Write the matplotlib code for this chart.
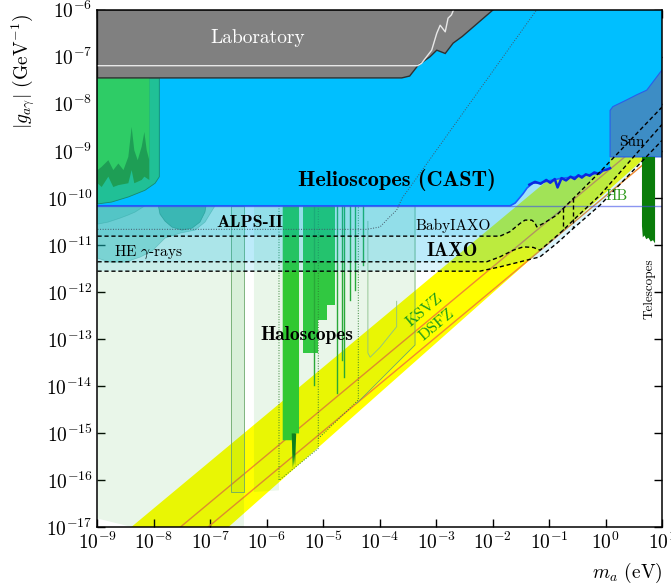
import numpy as np
import matplotlib.pyplot as plt

plt.rcParams['mathtext.fontset'] = 'cm'
plt.rcParams['font.family'] = ['cmr10', 'DejaVu Serif']
plt.rcParams['axes.formatter.use_mathtext'] = True

# all values below are log10(m_a / eV) and log10(|g| / GeV^-1)

# Laboratory (gray), lower edge
lab_m = [-9.0, -3.61, -3.47, -3.32, -3.11, -2.99, -2.84, -2.70, -2.54, -1.99]
lab_g = [-7.45, -7.45, -7.41, -7.18, -7.00, -6.86, -6.93, -6.71, -6.57, -6.0]
# white line inside the laboratory region
labline_m = [-9.0, -3.33, -3.26, -3.08, -2.99, -2.93, -2.84, -2.79, -2.73, -2.67]
labline_g = [-7.19, -7.19, -7.14, -6.86, -6.50, -6.33, -6.47, -6.18, -6.11, -5.94]

# CAST lower edge
cast_m = [-9.0, -1.69, -1.60, -1.46, -1.39, -1.29, -1.16, -0.81, -0.45, -0.10, 0.04, 0.08, 0.08, 1.0]
cast_g = [-10.17, -10.17, -10.11, -9.91, -9.79, -9.69, -9.68, -9.59, -9.54, -9.47, -9.37, -9.37, -9.13, -9.13]
# noisy part of the CAST edge
jag_m = [-1.35, -1.25, -1.15, -1.05, -0.98, -0.90, -0.85, -0.78, -0.70, -0.62, -0.55,
         -0.48, -0.42, -0.35, -0.28, -0.20, -0.12, -0.05, 0.02, 0.08]
jag_g = [-9.72, -9.66, -9.70, -9.62, -9.68, -9.60, -9.78, -9.58, -9.63, -9.55, -9.60,
         -9.52, -9.57, -9.50, -9.53, -9.46, -9.49, -9.42, -9.40, -9.37]

# Sun region
sun_m = [0.08, 0.08, 0.13, 0.37, 0.55, 0.73, 1.0, 1.0]
sun_g = [-9.13, -8.14, -8.06, -7.92, -7.81, -7.71, -7.28, -9.13]

# Telescopes
tel_m = [0.645, 0.877, 0.877, 0.84, 0.80, 0.76, 0.72, 0.69, 0.66, 0.645]
tel_g = [-9.13, -9.13, -10.97, -10.90, -10.93, -10.85, -10.88, -10.80, -10.84, -10.60]

hb_g = -10.17

# QCD axion band and models
band_m = [-9.0, 1.0]
band_hi = [-17.6, -7.6]
band_lo = [-19.47, -8.83]
ksvz_g = [-18.47, -8.47]
dsfz_g = [-18.96, -8.96]

# top-left region
tl_teal_m = [-9.0, -7.905, -7.905, -7.98, -8.16, -8.45, -8.75, -9.0]
tl_teal_g = [-7.45, -7.45, -9.553, -9.69, -9.84, -9.98, -10.09, -10.13]
tl_green_m = [-9.0, -8.926, -8.808, -8.72, -8.63, -8.54, -8.454, -8.395, -8.348, -8.288,
              -8.217, -8.17, -8.128, -8.082]
tl_green_g = [-9.41, -9.34, -9.20, -9.41, -9.27, -9.41, -9.13, -8.49, -8.99, -9.20,
              -8.91, -8.60, -8.99, -9.20]
tl_dark_m = [-9.0, -8.926, -8.808, -8.72, -8.63, -8.454, -8.395, -8.348, -8.217, -8.17, -8.082]
tl_dark_g = [-9.69, -9.77, -9.55, -9.77, -9.73, -9.69, -9.41, -9.69, -9.62, -9.55, -9.62]

# haloscope bars
halo_a_m = [-5.719, -5.43, -5.43, -5.50, -5.53, -5.56, -5.56, -5.719]
halo_a_g = [-10.17, -10.17, -15.01, -15.01, -15.73, -15.10, -15.155, -15.155]
halo_a_dark_m = [-5.56, -5.54, -5.52, -5.50, -5.48, -5.50, -5.53, -5.56]
halo_a_dark_g = [-15.01, -15.75, -15.45, -15.70, -15.01, -15.01, -15.01, -15.01]
halo_b_m = [-5.355, -4.79, -4.79, -4.94, -4.94, -5.09, -5.09, -5.355]
halo_b_g = [-10.17, -10.17, -12.28, -12.28, -12.60, -12.60, -13.30, -13.30]
stem_m = [-5.165, -4.763, -4.674, -4.633, -4.53, -4.44, -4.30]
stem_g = [-13.99, -14.16, -13.45, -13.81, -12.18, -11.97, -11.43]

# light green haloscope projections
lg1_m = [-9.0, -6.405, -6.405, -8.39, -9.0]
lg1_g = [-10.17, -10.17, -17.0, -17.0, -16.82]
lg2_m = [-6.228, -3.375, -3.375, -4.38, -5.089, -5.089, -5.785, -5.785, -6.228]
lg2_g = [-10.17, -10.17, -13.13, -14.30, -15.12, -15.33, -16.01, -16.22, -16.255]
box1_m = [-6.635, -6.405, -6.405, -6.635, -6.635]
box1_g = [-10.17, -10.17, -16.25, -16.25, -10.17]
box2_m = [-5.785, -5.785, -5.089, -5.089]
box2_g = [-10.17, -16.01, -15.33, -10.17]
box3_m = [-5.089, -4.38, -4.38]
box3_g = [-15.12, -14.30, -10.17]
box4_m = [-4.41, -3.375, -3.375]
box4_g = [-14.37, -13.13, -10.17]
box5_m = [-4.21, -4.21, -4.17, -3.995, -3.70, -3.70]
box5_g = [-10.5, -13.30, -13.39, -13.18, -12.74, -12.2]

# IAXO family
baby_m = [-9.0, -1.87, -1.693, -1.516, -1.427, -1.308, -1.25, -1.22, -1.103, -0.865,
          -0.748, -0.571, -0.334, -0.098, 1.0]
baby_g = [-10.815, -10.815, -10.72, -10.545, -10.474, -10.474, -10.53, -10.617, -10.545,
          -10.368, -10.226, -10.013, -9.73, -9.447, -8.07]
iaxo_m = [-9.0, -2.105, -1.87, -1.634, -1.457, -1.28, -1.161, -0.984, -0.749, -0.571, -0.098, 1.0]
iaxo_g = [-11.36, -11.36, -11.255, -11.113, -11.043, -11.055, -11.113, -10.936, -10.687,
          -10.474, -9.943, -8.44]
iaxop_m = [-9.0, -2.225, -1.87, -1.397, -1.161, -0.865, -0.571, -0.098, 1.0]
iaxop_g = [-11.56, -11.56, -11.468, -11.326, -11.255, -10.97, -10.65, -10.155, -8.78]
vdash_m = [-0.748, -0.571]
vdash_top = [-10.226, -10.013]
vdash_bot = [-10.69, -10.65]

# ALPS-II
alps_m = [-9.0, -4.23, -3.996, -3.82, -3.70, -3.60, -3.45, -1.22]
alps_g = [-10.67, -10.67, -10.62, -10.40, -10.26, -10.0, -9.75, -6.0]

# HE gamma-rays
he_a_m = [-9.0, -6.918, -7.096, -7.273, -7.539, -7.804, -8.035, -8.247, -8.513, -8.779, -9.0]
he_a_g = [-10.17, -10.17, -10.517, -10.687, -10.751, -10.857, -11.134, -11.262, -11.368, -11.368, -11.283]
he_b_m = [-7.923, -7.893, -7.804, -7.68, -7.503, -7.326, -7.185, -7.096, -7.078]
he_b_g = [-10.17, -10.347, -10.496, -10.624, -10.687, -10.645, -10.517, -10.304, -10.17]
he_c_m = [-9.0, -8.159, -8.336, -8.46, -8.601, -8.814, -9.0]
he_c_g = [-10.17, -10.17, -10.304, -10.368, -10.432, -10.517, -10.56]


def p(v):
    return 10.0 ** np.asarray(v)


fig = plt.figure(figsize=(6.71, 5.86), dpi=100)
ax = fig.add_axes([0.1453, 0.1007, 0.8413, 0.8827])
ax.set_xscale('log')
ax.set_yscale('log')
ax.set_xlim(1e-9, 1e1)
ax.set_ylim(1e-17, 1e-6)

# QCD band
bm = p(band_m)
ax.fill(np.r_[bm, bm[::-1]], np.r_[p(band_hi), p(band_lo)[::-1]], color='#ffff00', lw=0, zorder=1)
ax.plot(bm, p(ksvz_g), color='#f28a2e', lw=1.0, zorder=2)
ax.plot(bm, p(dsfz_g), color='#f28a2e', lw=1.0, zorder=2)

# haloscope limits
ax.fill(p(halo_a_m), p(halo_a_g), color='#33cc33', lw=0, zorder=3)
ax.fill(p(halo_a_dark_m), p(halo_a_dark_g), color='#0c7a1c', lw=0, zorder=3)
ax.fill(p(halo_b_m), p(halo_b_g), color='#33cc44', lw=0, zorder=3)
for m, g in zip(stem_m, stem_g):
    ax.plot([10 ** m, 10 ** m], [10 ** hb_g, 10 ** g], color='#2aa83a', lw=1.0, zorder=3)

# light green projections
ax.fill(p(lg1_m), p(lg1_g), color='#28aa28', alpha=0.1, lw=0, zorder=4)
ax.fill(p(lg2_m), p(lg2_g), color='#28aa28', alpha=0.1, lw=0, zorder=4)
ax.fill(p(box1_m), p(box1_g), facecolor='#28aa28', alpha=0.08, edgecolor='none', zorder=4)
ax.plot(p(box1_m), p(box1_g), color='#6aa86a', lw=0.6, zorder=4)
ax.plot(p(box2_m), p(box2_g), color='#2f7f2f', lw=0.7, ls=':', zorder=4)
ax.plot(p(box3_m), p(box3_g), color='#2f7f2f', lw=0.7, ls=':', zorder=4)
ax.plot(p(box4_m), p(box4_g), color='#6aa86a', lw=0.6, zorder=4)
ax.plot(p(box5_m), p(box5_g), color='#8abf8a', lw=0.6, zorder=4)

# IAXO projections (filled above each curve)
for cm_, cg_ in [(baby_m, baby_g), (iaxo_m, iaxo_g), (iaxop_m, iaxop_g)]:
    ax.fill(np.r_[p(cm_), 1e1, 1e-9], np.r_[p(cg_), 1e-6, 1e-6], color='#00b8f0', alpha=0.14, lw=0, zorder=5)

# HE gamma-rays
ax.fill(p(he_a_m), p(he_a_g), facecolor='#20b2aa', alpha=0.35, edgecolor='#1a8f8a', lw=0.5, zorder=6)
ax.fill(p(he_b_m), p(he_b_g), facecolor='#1aa8a0', alpha=0.6, edgecolor='#1a8f8a', lw=0.5, zorder=6)
ax.fill(p(he_c_m), p(he_c_g), facecolor='#20b2aa', alpha=0.3, edgecolor='#1a8f8a', lw=0.5, zorder=6)

# CAST
ax.fill(np.r_[p(cast_m), 1e1, 1e1, 1e-9], np.r_[p(cast_g), 10 ** -9.13, 1e-6, 1e-6],
        color='#00bfff', lw=0, zorder=7)
ax.plot(p(cast_m[:10]), p(cast_g[:10]), color='#1a5cff', lw=1.2, zorder=8)
ax.plot(p(jag_m), p(jag_g), color='#0a28e0', lw=1.8, zorder=8)
ax.axhline(10 ** hb_g, color='#4050e8', lw=1.0, alpha=0.6, zorder=9)

# Sun
ax.fill(p(sun_m), p(sun_g), facecolor='#3d8dc5', edgecolor='#2a5ee8', lw=0.8, zorder=8)

# Telescopes
ax.fill(p(tel_m), p(tel_g), color='#0a7d0a', lw=0, zorder=8)

# top-left region
ax.fill(p(tl_teal_m), p(tl_teal_g), facecolor='#20c096', edgecolor='#178a6c', lw=0.6, zorder=8)
ax.fill(np.r_[p([-9.0, -8.082]), p(tl_dark_m[::-1])],
        np.r_[p([-7.45, -7.45]), p(tl_dark_g[::-1])], color='#1e9e55', lw=0, zorder=8)
ax.fill(np.r_[p([-9.0, -8.082]), p(tl_green_m[::-1])],
        np.r_[p([-7.45, -7.45]), p(tl_green_g[::-1])], color='#2ecc66', lw=0, zorder=8)

# Laboratory
ax.fill(np.r_[p(lab_m), 1e-9], np.r_[p(lab_g), 1e-6], facecolor='#808080', edgecolor='#303030',
        lw=1.0, zorder=9)
ax.plot(p(labline_m), p(labline_g), color='#e8e8e8', lw=1.0, zorder=10)

# IAXO curves and ALPS-II
for cm_, cg_ in [(baby_m, baby_g), (iaxo_m, iaxo_g), (iaxop_m, iaxop_g)]:
    ax.plot(p(cm_), p(cg_), color='k', lw=1.0, ls='--', dashes=(3, 2), zorder=11)
for m, a, b in zip(vdash_m, vdash_top, vdash_bot):
    ax.plot([10 ** m, 10 ** m], [10 ** a, 10 ** b], color='k', lw=1.0, ls='--', dashes=(3, 2), zorder=11)
ax.plot(p(alps_m), p(alps_g), color='#445566', lw=0.7, ls=':', zorder=11)

# labels
ax.text(10 ** -6.17, 10 ** -6.6, 'Laboratory', color='white', fontsize=14, ha='center', va='center', zorder=12)
ax.text(10 ** -3.69, 10 ** -9.62, 'Helioscopes (CAST)', family='cmb10', fontsize=16, ha='center', va='center', zorder=12)
ax.text(10 ** -6.30, 10 ** -10.52, 'ALPS-II', family='cmb10', fontsize=13, ha='center', va='center', zorder=12)
ax.text(10 ** -8.09, 10 ** -11.16, r'HE $\gamma$-rays', fontsize=11, ha='center', va='center', zorder=12)
ax.text(10 ** -2.70, 10 ** -10.60, 'BabyIAXO', fontsize=11, ha='center', va='center', zorder=12)
ax.text(10 ** -2.72, 10 ** -11.14, 'IAXO', family='cmb10', fontsize=14, ha='center', va='center', zorder=12)
ax.text(10 ** -5.30, 10 ** -12.92, 'Haloscopes', family='cmb10', fontsize=14, ha='center', va='center', zorder=12)
ax.text(10 ** -3.20, 10 ** -12.39, 'KSVZ', color='#1a9a1a', fontsize=11.5, rotation=40, ha='center', va='center', zorder=12)
ax.text(10 ** -2.99, 10 ** -12.71, 'DSFZ', color='#1a9a1a', fontsize=11.5, rotation=40, ha='center', va='center', zorder=12)
ax.text(10 ** 0.47, 10 ** -8.82, 'Sun', fontsize=11, ha='center', va='center', zorder=12)
ax.text(10 ** 0.20, 10 ** -9.97, 'HB', color='#2e9a1a', fontsize=11, ha='center', va='center', zorder=12)
ax.text(10 ** 0.787, 10 ** -11.94, 'Telescopes', fontsize=9.5, rotation=90, ha='center', va='center', zorder=12)

ax.set_xticks(p(np.arange(-9, 2)))
ax.set_yticks(p(np.arange(-17, -5)))
ax.tick_params(which='both', direction='in', top=True, right=True, labelsize=14)
ax.tick_params(which='major', length=6, width=1.0)
ax.tick_params(which='minor', length=3, width=0.7)
for s in ax.spines.values():
    s.set_linewidth(1.1)
    s.set_zorder(20)

ax.set_ylabel(r'$|g_{a\gamma}|$ (GeV$^{-1}$)', fontsize=14)
ax.yaxis.set_label_coords(-0.108, 0.88)
ax.set_xlabel(r'$m_a$ (eV)', fontsize=14)
ax.xaxis.set_label_coords(1.0, -0.066)
ax.xaxis.label.set_ha('right')

fig.savefig('out.png', dpi=100)
